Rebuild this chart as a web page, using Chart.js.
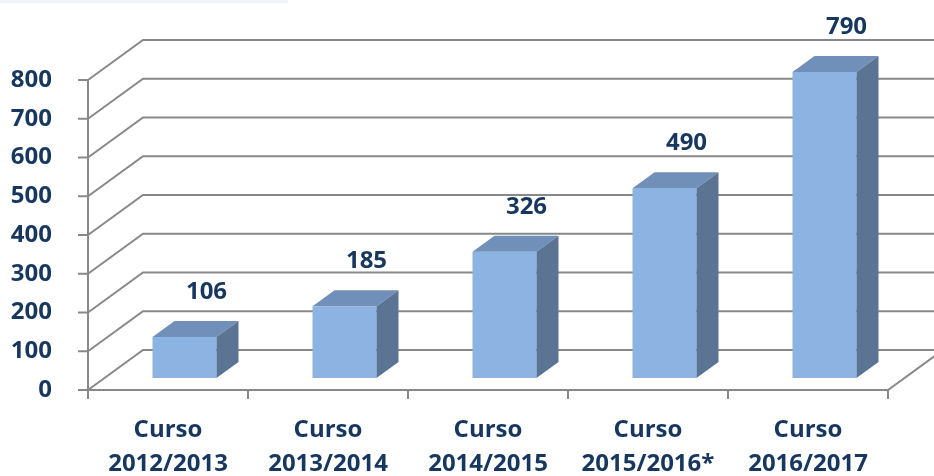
<!DOCTYPE html>
<html>
<head>
<meta charset="utf-8">
<script src="https://cdn.jsdelivr.net/npm/chart.js@4.4.0/dist/chart.umd.min.js"></script>
<style>
  html, body { margin: 0; padding: 0; background: #fff; }
  #wrap { position: relative; width: 934px; height: 476px; }
  #band { position: absolute; left: 0; top: 0; width: 288px; height: 3px; background: #eef3fa; }
  canvas { display: block; }
</style>
</head>
<body>
<div id="wrap">
  <div id="band"></div>
  <canvas id="chart" width="934" height="476"></canvas>
</div>
<script>
/* ================================
   Data
================================ */
const categories = [
  ["Curso", "2012/2013"],
  ["Curso", "2013/2014"],
  ["Curso", "2014/2015"],
  ["Curso", "2015/2016*"],
  ["Curso", "2016/2017"]
];
const values = [106, 185, 326, 490, 790];
const yTicks = [0, 100, 200, 300, 400, 500, 600, 700, 800];

/* ================================
   Look
================================ */
const TEXT = "#17375e";
const GRID = "#888888";
const FRONT = "#8db3e2";
const TOP = "#7090b9";
const SIDE = "#5b7493";
const FONT = { family: "'Open Sans', sans-serif", size: 24, weight: "bold", lineHeight: 1.42 };

// depth of the 3D box (back wall offset) and where bars sit inside it
const DX = 55, DY = -40;
const BAR_FRONT = 0.3, BAR_BACK = 0.7;

/* ================================
   Walls, floor and grid
================================ */
const wallsPlugin = {
  id: "walls",
  beforeDatasetsDraw(chart) {
    const { ctx, chartArea, scales: { x, y } } = chart;
    const { left, right, top, bottom } = chartArea;
    ctx.save();
    ctx.strokeStyle = GRID;
    ctx.lineWidth = 2;

    yTicks.forEach(v => {
      const py = y.getPixelForValue(v);
      ctx.beginPath();
      ctx.moveTo(left, py);
      ctx.lineTo(left + DX, py + DY);
      ctx.lineTo(right + DX, py + DY);
      ctx.stroke();
      // tick mark
      ctx.beginPath();
      ctx.moveTo(left - 10, py);
      ctx.lineTo(left, py);
      ctx.stroke();
    });

    // floor front + right edge
    ctx.beginPath();
    ctx.moveTo(left, bottom);
    ctx.lineTo(right, bottom);
    ctx.lineTo(right + DX, bottom + DY);
    ctx.stroke();

    // left axis line
    ctx.beginPath();
    ctx.moveTo(left, top);
    ctx.lineTo(left, bottom);
    ctx.stroke();

    // category ticks
    for (let i = 0; i <= categories.length; i++) {
      const px = x.getPixelForValue(i - 0.5);
      ctx.beginPath();
      ctx.moveTo(px, bottom);
      ctx.lineTo(px, bottom + 9);
      ctx.stroke();
    }
    ctx.restore();
  },

  afterDatasetsDraw(chart) {
    const { ctx } = chart;
    const meta = chart.getDatasetMeta(0);
    const ddx = DX * (BAR_BACK - BAR_FRONT);
    const ddy = DY * (BAR_BACK - BAR_FRONT);
    ctx.save();
    meta.data.forEach((bar, i) => {
      const { x, y, base, width } = bar.getProps(["x", "y", "base", "width"], true);
      const x0 = x - width / 2 + DX * BAR_FRONT;
      const x1 = x0 + width;
      const yt = y + DY * BAR_FRONT;
      const yb = base + DY * BAR_FRONT;

      // front
      ctx.fillStyle = FRONT;
      ctx.fillRect(x0, yt, width, yb - yt);

      // top
      ctx.fillStyle = TOP;
      ctx.beginPath();
      ctx.moveTo(x0, yt);
      ctx.lineTo(x1, yt);
      ctx.lineTo(x1 + ddx, yt + ddy);
      ctx.lineTo(x0 + ddx, yt + ddy);
      ctx.closePath();
      ctx.fill();

      // side
      ctx.fillStyle = SIDE;
      ctx.beginPath();
      ctx.moveTo(x1, yt);
      ctx.lineTo(x1 + ddx, yt + ddy);
      ctx.lineTo(x1 + ddx, yb + ddy);
      ctx.lineTo(x1, yb);
      ctx.closePath();
      ctx.fill();

      // value label
      ctx.fillStyle = TEXT;
      ctx.font = `bold ${FONT.size}px ${FONT.family}`;
      ctx.textAlign = "center";
      ctx.textBaseline = "middle";
      ctx.fillText(String(values[i]), x + DX * BAR_BACK, y + DY * BAR_BACK - 29);
    });
    ctx.restore();
  }
};

/* ================================
   Chart
================================ */
new Chart(document.getElementById("chart"), {
  type: "bar",
  data: {
    labels: categories,
    datasets: [{
      data: values,
      backgroundColor: "rgba(0,0,0,0)",
      categoryPercentage: 1,
      barPercentage: 0.4
    }]
  },
  options: {
    responsive: false,
    animation: false,
    layout: { padding: { top: 80, right: 46, left: 0, bottom: 0 } },
    plugins: { legend: { display: false }, tooltip: { enabled: false } },
    scales: {
      x: {
        grid: { display: false },
        border: { display: false },
        ticks: { color: TEXT, font: FONT, padding: 15, maxRotation: 0, autoSkip: false },
        afterFit(scale) { scale.height = 86; }
      },
      y: {
        min: 0,
        max: 800,
        grid: { display: false },
        border: { display: false },
        ticks: { stepSize: 100, color: TEXT, font: { ...FONT, lineHeight: 1.2 }, padding: 28 },
        afterFit(scale) { scale.width = 88; }
      }
    }
  },
  plugins: [wallsPlugin]
});
</script>
</body>
</html>
